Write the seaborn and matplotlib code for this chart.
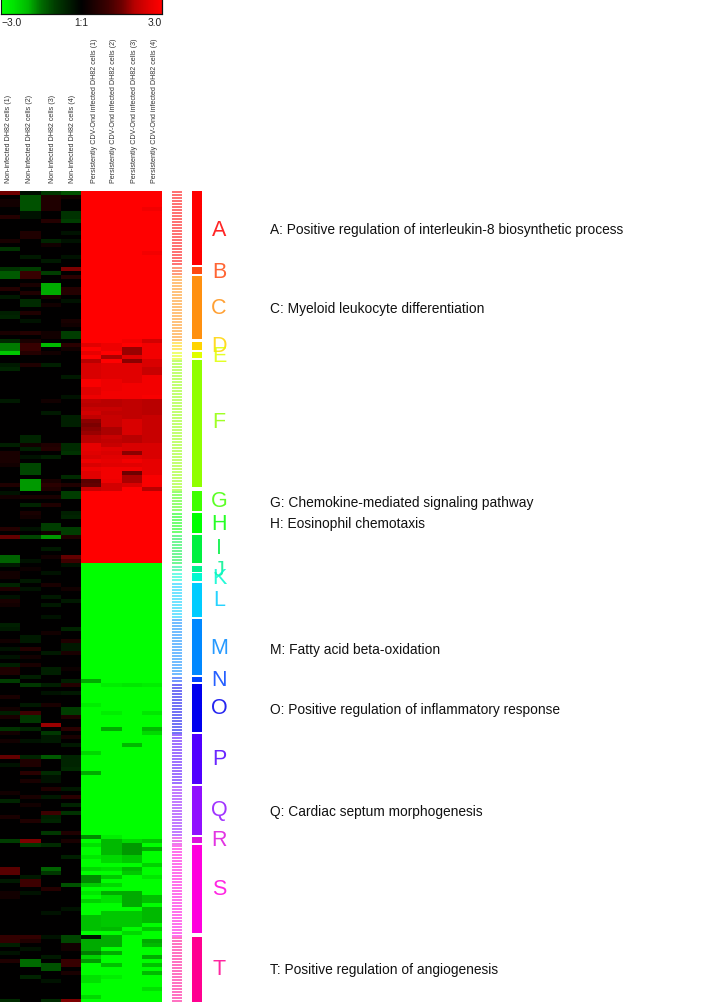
import numpy as np
import pandas as pd
import matplotlib
matplotlib.use("Agg")
import matplotlib.pyplot as plt
from matplotlib.colors import LinearSegmentedColormap
import seaborn as sns

# ---- column labels -------------------------------------------------
SAMPLES = ["Non-infected DH82 cells (1)", "Non-infected DH82 cells (2)",
           "Non-infected DH82 cells (3)", "Non-infected DH82 cells (4)",
           "Persistently CDV-Ond infected DH82 cells (1)",
           "Persistently CDV-Ond infected DH82 cells (2)",
           "Persistently CDV-Ond infected DH82 cells (3)",
           "Persistently CDV-Ond infected DH82 cells (4)"]

# ---- heatmap values: rows not listed are 0 (controls) or the group
# saturation (+3 for the first N_UP rows, -3 for the rest) --------------
N_ROWS = 203
N_UP = 93

CTRL1 = {0:1.5,2:.3,3:.3,6:.6,12:.4,14:-.8,19:-.8,20:-1.3,21:-1.3,24:.6,26:-.4,30:-.5,31:-.6,
         35:.4,37:-.7,38:-1.6,39:-1.6,40:-2.2,43:-.4,44:-.6,52:-.4,63:-.5,65:.4,66:.4,67:.4,68:.3,73:.5,75:-.3,76:.3,
         84:.6,86:1.4,91:-1.4,92:-1.4,93:-.4,95:.3,96:.3,98:-.6,99:.5,101:-.3,102:.4,103:.3,108:-.5,109:-.4,112:.3,114:-.3,116:-.3,
         118:-.5,119:.5,120:.5,122:-1.0,126:.4,129:.3,130:-.5,131:.4,134:-.8,135:.3,137:.3,141:1.4,143:-.3,150:.3,152:-.6,
         156:.4,162:-1.0,169:1.3,170:1.3,172:-.4,175:.3,176:.3,186:.8,187:.8,188:-.5,190:-.3,192:.5,202:-.7}
CTRL2 = {0:-.2,1:-1.2,2:-1.2,3:-1.2,4:-1.2,5:-.3,6:-.3,10:.5,11:.5,16:-.4,19:-1.0,20:.9,21:.9,23:.4,25:.5,27:-.7,28:-.7,30:.5,32:-.3,
         35:.6,37:.4,38:.9,39:.9,40:.6,43:.5,61:-.6,62:-.6,63:.3,64:-.5,66:-.3,68:-1.1,69:-1.1,70:-1.1,72:-1.8,73:-1.8,74:-1.8,76:.4,78:-.6,80:.4,
         81:.3,84:-.3,86:-1.1,92:-.3,94:.2,97:-.4,99:-.3,111:-.4,112:-.4,114:.6,116:.3,
         118:.4,121:-.5,123:-.9,128:-.4,130:1.0,131:-.9,132:-.9,134:-.6,137:-.3,141:-.6,142:.5,143:.5,145:.7,147:.4,151:.4,
         153:.3,157:.5,162:1.6,163:-.9,171:-.4,172:1.0,173:1.0,175:-.3,186:.8,187:.5,189:-.3,192:-1.5,193:-1.5,196:-.6}
CTRL3 = {0:-.9,1:.5,2:.5,3:.5,4:.5,7:.6,12:-.6,13:.3,17:-.4,20:-1.0,23:-1.9,24:-1.9,25:-1.9,26:.4,28:.3,
         35:.3,36:.3,38:-2.0,40:.3,43:-.5,52:.3,55:-.4,63:.5,64:.6,66:-.5,72:.4,73:.7,74:.5,76:.4,78:.5,
         83:-1.0,84:-1.0,85:.3,86:-1.8,89:-.4,91:.3,95:-.3,98:.4,101:-.4,103:-.4,106:-.3,110:.3,115:-.4,
         119:-.5,120:-.5,123:-.5,125:-.3,128:.4,133:1.8,135:-.9,136:-.4,137:-.4,141:-1.3,145:-.7,146:-.3,147:-.3,149:.5,151:-.4,
         155:1.0,156:-.5,157:-.6,160:-.9,163:-.7,169:-1.4,170:-.9,174:.6,180:-.3,186:-.3,191:-.4,193:-1.2,194:-1.2,197:-.3,202:-.7}
CTRL4 = {0:-1.2,1:.3,5:-.8,6:-.8,7:-1.0,10:-.3,12:-.3,16:-.3,19:1.6,21:.7,24:.6,25:.6,27:-.3,32:.4,
         33:.3,35:-1.0,36:-1.0,38:.7,39:.3,46:-.4,51:-.3,56:-.5,57:-.5,58:-.5,63:-.7,64:-.7,65:-.8,71:-.7,73:.5,75:-1.0,76:-1.0,80:-.5,
         81:-.6,84:-1.0,85:-1.0,86:.5,91:1.4,92:1.0,93:-.3,99:.3,102:-.4,109:-.6,112:.5,113:-.4,114:-.4,115:.4,
         119:.2,122:-.5,123:.6,125:-.4,129:-1.0,130:-1.0,131:.5,134:.7,136:.4,138:-.4,141:-.6,142:-.6,143:-.6,144:-.7,149:-.4,151:.7,
         153:-.6,155:-.8,160:.5,162:.4,166:-.5,173:-1.2,179:-.3,186:-1.1,187:-1.1,188:.3,189:.3,192:.9,193:.9,195:.4,202:1.6}
CASE1 = {38:2.5,40:2.6,42:2.0,43:2.4,44:2.4,45:2.4,46:2.4,47:2.9,48:2.9,49:2.5,50:2.5,51:2.7,52:2.1,53:2.0,54:2.2,55:2.3,56:2.1,
         57:1.7,58:1.6,59:1.7,60:1.8,61:2.0,62:2.0,63:2.6,64:2.6,65:2.5,66:2.4,67:2.7,68:2.4,69:2.7,70:2.5,71:2.5,72:1.3,73:1.4,74:2.2,
         122:-1.9,128:-2.7,140:-2.4,145:-1.9,
         161:-1.7,163:-2.5,166:-2.6,169:-2.4,171:-1.7,172:-1.7,173:-2.2,175:-2.6,177:-2.3,181:-2.1,182:-2.1,183:-2.1,184:-2.1,
         186:-.3,187:-1.9,188:-1.9,189:-1.9,190:-1.6,191:-2.3,192:-1.8,196:-2.5,197:-2.5,201:-2.4}
CASE2 = {38:2.7,39:2.7,41:1.9,43:2.5,44:2.5,45:2.5,46:2.5,47:2.7,48:2.7,49:2.7,50:2.8,51:2.8,52:2.0,53:2.0,54:2.2,55:2.1,56:2.2,57:2.2,58:2.2,
         59:1.9,60:1.9,61:2.2,62:2.1,63:2.2,64:2.5,65:2.4,66:2.5,67:2.6,68:2.5,69:2.8,70:2.8,71:2.8,72:2.7,73:2.3,74:2.3,
         123:-2.7,130:-2.7,134:-1.9,
         161:-2.7,162:-2.0,163:-2.0,164:-2.0,165:-2.0,166:-2.4,167:-2.4,169:-2.5,171:-2.2,173:-2.4,175:-1.9,176:-2.5,177:-2.5,
         180:-2.2,181:-2.2,182:-2.2,183:-2.2,184:-2.0,186:-1.9,187:-1.9,188:-1.9,190:-1.9,193:-2.1,196:-2.7}
CASE3 = {37:2.8,39:1.8,40:1.8,41:2.5,42:1.7,43:2.5,44:2.5,45:2.5,46:2.5,47:2.5,48:2.8,49:2.8,50:2.8,51:2.8,52:2.1,53:2.1,54:2.1,55:2.1,56:2.1,
         57:2.4,58:2.4,59:2.4,60:2.4,61:2.0,62:2.0,63:2.4,64:2.4,65:1.7,66:2.5,67:2.8,68:2.5,69:2.8,70:1.5,71:1.9,72:1.9,73:2.4,
         123:-2.6,138:-2.0,
         162:-2.4,163:-1.8,164:-1.8,165:-1.8,166:-2.2,167:-2.2,169:-2.0,170:-2.2,175:-1.9,176:-1.9,177:-1.9,178:-1.9,
         180:-2.2,181:-2.2,182:-2.2,183:-2.2,185:-2.4}
CASE4 = {4:2.8,15:2.8,37:2.3,38:2.8,39:2.8,40:2.8,41:2.8,42:2.4,43:2.4,44:2.2,45:2.2,46:2.8,47:2.8,48:2.8,49:2.8,50:2.8,51:2.9,52:2.0,53:2.0,54:2.0,55:2.0,
         56:2.2,57:2.2,58:2.2,59:2.2,60:2.2,61:2.2,62:2.2,63:2.4,64:2.4,65:2.4,66:2.4,67:2.6,68:2.6,69:2.6,70:2.6,71:2.9,72:2.9,73:2.9,74:2.0,
         123:-2.7,130:-2.6,134:-2.0,135:-2.4,
         162:-2.2,164:-1.9,168:-2.3,171:-2.6,176:-2.1,177:-2.1,179:-2.0,180:-2.0,181:-2.0,182:-2.0,184:-2.2,187:-1.9,188:-2.0,
         191:-1.9,193:-2.1,195:-2.0,199:-2.5}
CONTROLS = [CTRL1, CTRL2, CTRL3, CTRL4]
CASES = [CASE1, CASE2, CASE3, CASE4]

# ---- clusters: first and last row of every cluster bar ----------------
CLUSTER_NAMES = list("ABCDEFGHIJKLMNOPQRST")
CLUSTER_TOP = [0, 76, 85, 151, 161, 169, 300, 322, 344, 375, 382, 392, 428, 486, 493, 543, 595, 646, 654, 746]
CLUSTER_END = [74, 83, 148, 159, 167, 296, 320, 342, 372, 381, 390, 426, 484, 491, 541, 593, 644, 652, 742, 811]
CLUSTER_COLORS = ["#ff0000", "#ff4a10", "#ff9010", "#ffd400", "#e0ff00", "#90ff00", "#40ff00", "#00ff00",
                  "#00f040", "#00f090", "#00f8d0", "#00ccff", "#0088ff", "#0044ff", "#0000ee", "#5000ff",
                  "#9010ff", "#dd10dd", "#ff00dd", "#ff0090"]
LETTER_Y = [39, 81, 117, 156, 165, 232, 311, 334, 358, 380, 388, 410, 457, 490, 518, 569, 620, 650, 699, 779]

ANNOT_CLUSTER = ["A", "C", "G", "H", "M", "O", "Q", "T"]
ANNOT_TEXT = ["Positive regulation of interleukin-8 biosynthetic process",
              "Myeloid leukocyte differentiation",
              "Chemokine-mediated signaling pathway",
              "Eosinophil chemotaxis",
              "Fatty acid beta-oxidation",
              "Positive regulation of inflammatory response",
              "Cardiac septum morphogenesis",
              "Positive regulation of angiogenesis"]
ANNOT_Y = [39, 118, 312, 333, 459, 519, 621, 779]

# ---- assemble ---------------------------------------------------------
base_case = np.r_[np.full(N_UP, 3.0), np.full(N_ROWS - N_UP, -3.0)]
matrix = np.zeros((N_ROWS, 8))
for j, col in enumerate(CONTROLS):
    for r, v in col.items():
        matrix[r, j] = v
for j, col in enumerate(CASES):
    matrix[:, 4 + j] = base_case
    for r, v in col.items():
        matrix[r, 4 + j] = v
frame = pd.DataFrame(matrix, columns=SAMPLES)

W, H = 709, 1003
plt.rcParams["font.family"] = ["Liberation Sans", "DejaVu Sans"]
fig = plt.figure(figsize=(W / 100, H / 100), dpi=100, facecolor="white")


def px_axes(x0, y0, x1, y1):
    return fig.add_axes([x0 / W, 1 - y1 / H, (x1 - x0) / W, (y1 - y0) / H])


# colour ramp: (magnitude on the 0-3 scale, brightness of the pure hue)
RAMP = [(0, 0), (.3, .07), (1, .24), (1.5, .42), (2, .72), (2.5, .88), (3, 1)]
nodes = sorted([((3 - m) / 6, (0, b, 0)) for m, b in RAMP], key=lambda n: n[0])
nodes += [((3 + m) / 6, (b, 0, 0)) for m, b in RAMP[1:]]
cmap = LinearSegmentedColormap.from_list("gbr", nodes)

ax = px_axes(0, 192, 162, 1004)
cax = px_axes(1, -1, 162, 15)
sns.heatmap(frame, ax=ax, cbar_ax=cax, cmap=cmap, vmin=-3, vmax=3, yticklabels=False,
            linewidths=0, cbar_kws={"orientation": "horizontal"})

# top colour key
cax.xaxis.set_ticks([-3, 0, 3], labels=["\u22123.0", "1:1", "3.0"])
cax.tick_params(axis="x", length=0, pad=2, labelsize=7.4, labelcolor="#222222")
tl = cax.get_xticklabels()
tl[0].set_ha("left")
tl[2].set_ha("right")
for s in cax.spines.values():
    s.set_visible(True)
    s.set_color("#111111")
    s.set_linewidth(0.8)
cax.spines["top"].set_visible(False)
cax.spines["left"].set_visible(False)

# column labels
ax.xaxis.tick_top()
ax.set_xticks([0.41, 1.45, 2.58, 3.6, 4.66, 5.6, 6.64, 7.62])
ax.set_xticklabels(SAMPLES, rotation=90, fontsize=5.1, color="#333333", ha="center", va="bottom")
ax.tick_params(axis="x", length=0, pad=6.2)
ax.tick_params(axis="y", length=0)
ax.set_xlabel("")

# striped gene key and solid cluster bar, on one shared vertical scale
stripe = px_axes(172, 192, 182, 1004)
solid = px_axes(192, 192, 202, 1004)
for a in (stripe, solid):
    a.set_xlim(0, 1)
    a.set_ylim(812, 0)
    a.axis("off")
next_top = CLUSTER_TOP[1:] + [CLUSTER_END[-1] + 2]
for top, end, nxt, col in zip(CLUSTER_TOP, CLUSTER_END, next_top, CLUSTER_COLORS):
    solid.barh(top, 1, height=end - top, align="edge", color=col, linewidth=0)
    genes = np.arange(top, nxt - 1, 3)
    stripe.barh(genes, np.ones_like(genes), height=2, align="edge", color=col, alpha=0.55, linewidth=0)

# letters and annotations on the same vertical scale
label_ax = px_axes(205, 191, 709, 1003)
label_ax.set_xlim(205, 709)
label_ax.set_ylim(812, 0)
label_ax.axis("off")
for name, y, col in zip(CLUSTER_NAMES, LETTER_Y, CLUSTER_COLORS):
    label_ax.text(219, y, name, color=col, fontsize=15.5, ha="center", va="center", alpha=0.85)
for name, text, y in zip(ANNOT_CLUSTER, ANNOT_TEXT, ANNOT_Y):
    label_ax.text(270, y, f"{name}: {text}", color="#111111", fontsize=9.95, ha="left", va="center")

fig.savefig("out.png", dpi=100, facecolor="white")
